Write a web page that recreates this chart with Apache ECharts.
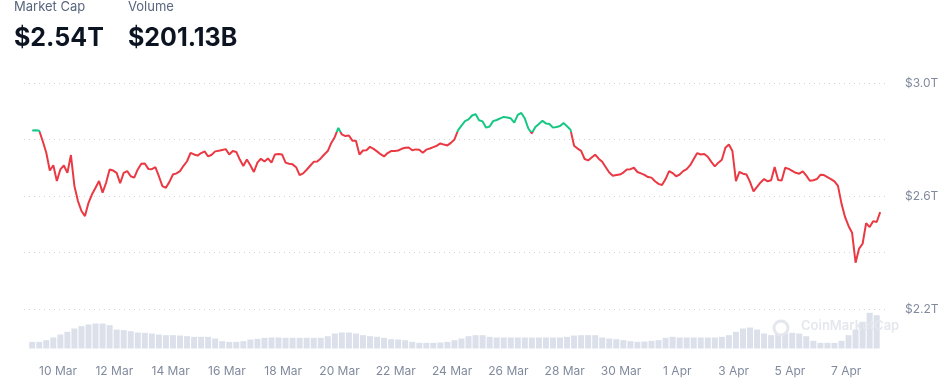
<!DOCTYPE html>
<html><head><meta charset="utf-8">
<script src="https://cdn.jsdelivr.net/npm/echarts@6/dist/echarts.min.js"></script>
<style>html,body{margin:0;padding:0;background:#fff;}#c{width:945px;height:387px;}</style>
</head><body><div id="c"></div>
<script>
// Time in hours since 9 Mar 00:00
const startHour = 2;
const stepHours = 3;
// Market cap, $T, every 3 hours
const marketCap = [
2.832,2.833,2.831,2.794,2.753,2.690,2.709,2.653,2.694,2.708,
2.682,2.745,2.635,2.582,2.547,2.529,2.576,2.606,2.629,2.653,
2.612,2.647,2.694,2.690,2.682,2.645,2.682,2.688,2.670,2.665,
2.694,2.714,2.715,2.696,2.695,2.702,2.670,2.635,2.629,2.650,
2.676,2.680,2.688,2.707,2.723,2.753,2.747,2.743,
2.752,2.758,2.740,2.746,2.758,2.760,2.763,2.766,2.747,2.759,
2.756,2.729,2.706,2.729,2.709,2.685,2.718,2.732,2.722,2.733,
2.718,2.747,2.749,2.747,2.718,2.714,2.712,2.702,2.674,2.680,
2.693,2.707,2.721,2.722,2.733,2.747,2.759,2.788,2.809,2.841,
2.818,2.812,2.814,2.796,2.796,2.747,2.761,2.762,2.774,2.767,
2.758,2.748,2.740,2.752,2.759,2.759,2.761,2.767,2.771,2.772,
2.762,2.765,2.764,2.753,2.764,2.768,2.773,2.778,2.786,2.782,
2.779,2.788,2.800,2.832,2.849,2.865,2.871,2.885,2.890,2.868,
2.864,2.842,2.846,2.865,2.869,2.875,2.880,2.878,2.875,2.860,
2.887,2.894,2.874,2.839,2.822,2.844,2.855,2.866,2.857,2.855,
2.842,2.844,2.848,2.858,2.847,2.834,2.778,2.768,2.760,2.731,
2.726,2.736,2.746,2.732,2.721,2.702,2.683,2.672,2.674,2.676,
2.683,2.694,2.695,2.700,2.685,2.680,2.675,2.667,2.665,2.652,
2.643,2.639,2.660,2.688,2.681,2.670,2.676,2.688,2.695,2.709,
2.731,2.752,2.747,2.749,2.739,2.721,2.705,2.718,2.728,
2.771,2.782,2.759,2.653,2.685,2.679,2.676,2.650,2.616,2.632,
2.648,2.660,2.652,2.656,2.703,2.657,2.655,2.700,2.696,2.689,
2.682,2.679,2.687,2.672,2.654,2.656,2.660,2.675,2.674,2.667,
2.660,2.652,2.636,2.573,2.526,2.494,2.470,2.364,2.414,2.431,
2.504,2.490,2.511,2.508,2.543
];
// Volume, $B, every 6 hours
const volStepHours = 6;
const volume = [
40,40,50,66,84,100,120,134,144,150,
150,140,114,110,104,96,94,90,84,80,
80,78,74,70,70,70,60,44,40,40,
44,54,58,64,66,66,64,64,64,64,
64,64,74,90,96,96,90,80,74,70,
64,56,54,50,40,34,34,34,36,40,
50,60,74,80,
80,70,66,66,66,66,66,66,66,66,66,66,
70,78,80,80,80,66,60,56,50,44,
40,42,46,50,64,70,66,66,66,66,
66,66,70,80,100,120,126,114,90,80,
86,90,94,90,74,46,34,34,34,46,
80,114,160,214,200
];
const xTickHours = [24,72,120,168,216,264,312,360,408,456,504,552,600,648,696];
const xTickLabels = ['10 Mar','12 Mar','14 Mar','16 Mar','18 Mar','20 Mar','22 Mar','24 Mar','26 Mar','28 Mar','30 Mar','1 Apr','3 Apr','5 Apr','7 Apr'];
const baseline = 2.826;
const headerMarketCap = '$2.54T';
const headerVolume = '$201.13B';

const priceData = marketCap.map((v, i) => [startHour + i * stepHours, v]);
const volData = volume.map((v, j) => [startHour + j * volStepHours, v]);

const chart = echarts.init(document.getElementById('c'), null, {renderer: 'canvas'});
const FONT = 'Inter, "Noto Sans", sans-serif';
chart.setOption({
  animation: false,
  textStyle: {fontFamily: FONT},
  grid: [
    {left: 24, right: 56, top: 83, bottom: 78},
    {left: 24, right: 56, top: 300, bottom: 38.5}
  ],
  xAxis: [
    {type: 'value', gridIndex: 0, min: -5, max: 732.5, show: false},
    {type: 'value', gridIndex: 1, min: -5, max: 732.5,
     axisLine: {show: false}, axisTick: {show: false, customValues: xTickHours}, splitLine: {show: false},
     axisLabel: {customValues: xTickHours, color: '#808a9d', fontSize: 12, margin: 17, fontFamily: FONT,
       formatter: v => xTickLabels[xTickHours.indexOf(v)] || ''}}
  ],
  yAxis: [
    {type: 'value', gridIndex: 0, position: 'right', min: 2.2, max: 3.0, interval: 0.2,
     axisLine: {show: false}, axisTick: {show: false},
     splitLine: {lineStyle: {type: [1, 4], color: '#cfd5e0', width: 1}},
     axisLabel: {color: '#808a9d', fontSize: 12, margin: 16, fontFamily: FONT,
       formatter: v => (Math.round(v * 10) % 4 === 2 ? '$' + v.toFixed(1) + 'T' : '')}},
    {type: 'value', gridIndex: 1, min: 0, max: 291, show: false}
  ],
  visualMap: {show: false, type: 'piecewise', seriesIndex: 0, dimension: 1,
    pieces: [{gt: 0, lte: baseline, color: '#ea3943'}, {gt: baseline, lte: 10, color: '#16c784'}],
    outOfRange: {color: '#ea3943'}},
  series: [
    {type: 'line', xAxisIndex: 0, yAxisIndex: 0, data: priceData, showSymbol: false,
     lineStyle: {width: 2}, z: 3},
    {type: 'bar', xAxisIndex: 1, yAxisIndex: 1, data: volData, barWidth: 6,
     itemStyle: {color: '#dbe0ea'}, z: 1}
  ],
  graphic: [
    {type: 'text', left: 14, top: 1, style: {text: 'Market Cap', fill: '#58667e', fontSize: 13, fontFamily: FONT}},
    {type: 'text', left: 128, top: 1, style: {text: 'Volume', fill: '#58667e', fontSize: 13, fontFamily: FONT}},
    {type: 'text', left: 14, top: 26, style: {text: headerMarketCap, fill: '#0d1421', fontSize: 25, fontWeight: 'bold', fontFamily: FONT}},
    {type: 'text', left: 128, top: 26, style: {text: headerVolume, fill: '#0d1421', fontSize: 25, fontWeight: 'bold', fontFamily: FONT}},
    {type: 'circle', shape: {cx: 781, cy: 328, r: 7}, style: {fill: 'none', stroke: '#e4e7ed', lineWidth: 3}, z: 10},
    {type: 'text', left: 801, top: 320, z: 10, style: {text: 'CoinMarketCap', fill: '#e4e7ed', fontSize: 13, fontWeight: 600, fontFamily: FONT}}
  ]
});
</script></body></html>
